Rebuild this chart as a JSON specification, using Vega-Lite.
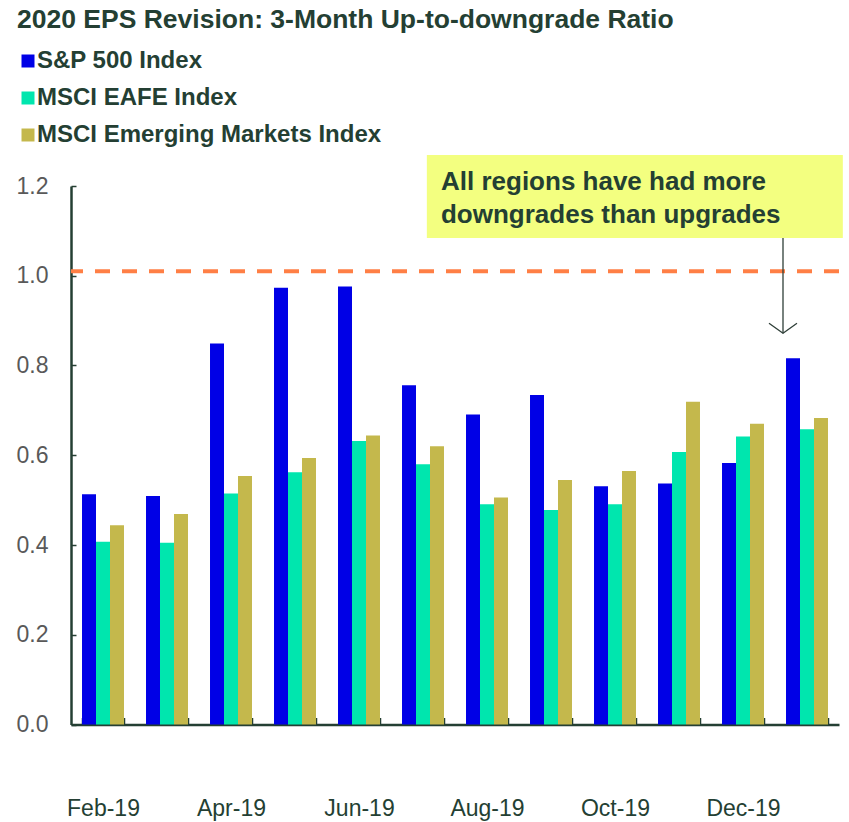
{
  "$schema": "https://vega.github.io/schema/vega-lite/v6.json",
  "width": 768,
  "height": 538.5,
  "autosize": {"type": "none"},
  "padding": {"left": 71, "top": 186, "right": 10, "bottom": 97},
  "background": "white",
  "config": {"view": {"stroke": null}, "font": "Liberation Sans"},
  "title": {
    "text": "2020 EPS Revision: 3-Month Up-to-downgrade Ratio",
    "anchor": "start",
    "frame": "group",
    "dx": -54,
    "offset": 16,
    "fontSize": 26.5,
    "fontWeight": "bold",
    "color": "#243f33",
    "font": "Liberation Sans"
  },
  "datasets": {
    "eps": [
      {"month": "Feb-19", "index": "S&P 500 Index", "ratio": 0.513},
      {"month": "Feb-19", "index": "MSCI EAFE Index", "ratio": 0.407},
      {"month": "Feb-19", "index": "MSCI Emerging Markets Index", "ratio": 0.444},
      {"month": "Mar-19", "index": "S&P 500 Index", "ratio": 0.509},
      {"month": "Mar-19", "index": "MSCI EAFE Index", "ratio": 0.405},
      {"month": "Mar-19", "index": "MSCI Emerging Markets Index", "ratio": 0.469},
      {"month": "Apr-19", "index": "S&P 500 Index", "ratio": 0.849},
      {"month": "Apr-19", "index": "MSCI EAFE Index", "ratio": 0.515},
      {"month": "Apr-19", "index": "MSCI Emerging Markets Index", "ratio": 0.554},
      {"month": "May-19", "index": "S&P 500 Index", "ratio": 0.973},
      {"month": "May-19", "index": "MSCI EAFE Index", "ratio": 0.562},
      {"month": "May-19", "index": "MSCI Emerging Markets Index", "ratio": 0.594},
      {"month": "Jun-19", "index": "S&P 500 Index", "ratio": 0.976},
      {"month": "Jun-19", "index": "MSCI EAFE Index", "ratio": 0.632},
      {"month": "Jun-19", "index": "MSCI Emerging Markets Index", "ratio": 0.644},
      {"month": "Jul-19", "index": "S&P 500 Index", "ratio": 0.756},
      {"month": "Jul-19", "index": "MSCI EAFE Index", "ratio": 0.58},
      {"month": "Jul-19", "index": "MSCI Emerging Markets Index", "ratio": 0.62},
      {"month": "Aug-19", "index": "S&P 500 Index", "ratio": 0.691},
      {"month": "Aug-19", "index": "MSCI EAFE Index", "ratio": 0.491},
      {"month": "Aug-19", "index": "MSCI Emerging Markets Index", "ratio": 0.506},
      {"month": "Sep-19", "index": "S&P 500 Index", "ratio": 0.734},
      {"month": "Sep-19", "index": "MSCI EAFE Index", "ratio": 0.478},
      {"month": "Sep-19", "index": "MSCI Emerging Markets Index", "ratio": 0.545},
      {"month": "Oct-19", "index": "S&P 500 Index", "ratio": 0.531},
      {"month": "Oct-19", "index": "MSCI EAFE Index", "ratio": 0.491},
      {"month": "Oct-19", "index": "MSCI Emerging Markets Index", "ratio": 0.565},
      {"month": "Nov-19", "index": "S&P 500 Index", "ratio": 0.537},
      {"month": "Nov-19", "index": "MSCI EAFE Index", "ratio": 0.607},
      {"month": "Nov-19", "index": "MSCI Emerging Markets Index", "ratio": 0.719},
      {"month": "Dec-19", "index": "S&P 500 Index", "ratio": 0.583},
      {"month": "Dec-19", "index": "MSCI EAFE Index", "ratio": 0.642},
      {"month": "Dec-19", "index": "MSCI Emerging Markets Index", "ratio": 0.67},
      {"month": "Jan-20", "index": "S&P 500 Index", "ratio": 0.816},
      {"month": "Jan-20", "index": "MSCI EAFE Index", "ratio": 0.658},
      {"month": "Jan-20", "index": "MSCI Emerging Markets Index", "ratio": 0.683}
    ]
  },
  "layer": [
    {
      "data": {"name": "eps"},
      "mark": {"type": "bar"},
      "encoding": {
        "x": {
          "field": "month",
          "type": "nominal",
          "sort": ["Feb-19","Mar-19","Apr-19","May-19","Jun-19","Jul-19","Aug-19","Sep-19","Oct-19","Nov-19","Dec-19","Jan-20"],
          "scale": {"paddingInner": 0.344, "paddingOuter": 0.172},
          "axis": {
            "title": null,
            "labelAngle": 0,
            "labelFontSize": 23,
            "labelColor": "#243f33",
            "labelPadding": 80,
            "tickSize": -7,
            "tickColor": "#243f33",
            "tickWidth": 1.5,
            "tickBand": "extent",
            "domainColor": "#243f33",
            "domainWidth": 2.5,
            "labelExpr": "indexof(['Feb-19','Apr-19','Jun-19','Aug-19','Oct-19','Dec-19'], datum.value) >= 0 ? datum.value : ''"
          }
        },
        "xOffset": {
          "field": "index",
          "type": "nominal",
          "sort": ["S&P 500 Index", "MSCI EAFE Index", "MSCI Emerging Markets Index"]
        },
        "y": {
          "field": "ratio",
          "type": "quantitative",
          "scale": {"domain": [0, 1.2], "nice": false},
          "axis": {
            "title": null,
            "values": [0, 0.2, 0.4, 0.6, 0.8, 1, 1.2],
            "format": ".1f",
            "labelFontSize": 23,
            "labelColor": "#595959",
            "labelPadding": 28,
            "tickSize": -5,
            "tickColor": "#243f33",
            "tickWidth": 1.5,
            "domainColor": "#243f33",
            "domainWidth": 2.5,
            "grid": false
          }
        },
        "color": {
          "field": "index",
          "type": "nominal",
          "sort": ["S&P 500 Index", "MSCI EAFE Index", "MSCI Emerging Markets Index"],
          "scale": {
            "domain": ["S&P 500 Index", "MSCI EAFE Index", "MSCI Emerging Markets Index"],
            "range": ["#0000E6", "#00E6AE", "#C4B84C"]
          },
          "legend": {
            "title": null,
            "orient": "none",
            "legendX": -55,
            "legendY": -137,
            "symbolType": "square",
            "symbolSize": 169,
            "symbolStrokeWidth": 0,
            "symbolOpacity": 1,
            "labelFontSize": 24,
            "labelFontWeight": "bold",
            "labelColor": "#243f33",
            "labelFont": "Liberation Sans",
            "labelOffset": -3,
            "labelLimit": 600,
            "rowPadding": 13
          }
        }
      }
    },
    {
      "data": {"values": [{}]},
      "mark": {"type": "rule", "color": "#FF7F45", "strokeWidth": 4, "strokeDash": [15, 12]},
      "encoding": {"y": {"datum": 1.01, "type": "quantitative"}}
    },
    {
      "data": {"values": [{}]},
      "mark": {"type": "rect", "color": "#F3FF80"},
      "encoding": {
        "x": {"datum": 5.56, "type": "quantitative", "scale": {"domain": [0, 12], "nice": false, "zero": false}, "axis": null},
        "x2": {"datum": 12.06},
        "y": {"datum": 1.084, "type": "quantitative"},
        "y2": {"datum": 1.269}
      }
    },
    {
      "data": {"values": [{}]},
      "mark": {"type": "rule", "color": "#2f3f38", "strokeWidth": 1.3},
      "encoding": {
        "x": {"datum": 11.125, "type": "quantitative", "scale": {"domain": [0, 12], "nice": false, "zero": false}, "axis": null},
        "y": {"datum": 1.084, "type": "quantitative"},
        "y2": {"datum": 0.872}
      }
    },
    {
      "data": {"values": [{}]},
      "mark": {"type": "point", "shape": "M-1,-0.714L0,0L1,-0.714", "size": 784, "filled": false, "stroke": "#2f3f38", "strokeWidth": 1.3, "opacity": 1},
      "encoding": {
        "x": {"datum": 11.125, "type": "quantitative", "scale": {"domain": [0, 12], "nice": false, "zero": false}, "axis": null},
        "y": {"datum": 0.872, "type": "quantitative"}
      }
    },
    {
      "data": {"values": [{}]},
      "mark": {
        "type": "text",
        "align": "left",
        "baseline": "alphabetic",
        "fontSize": 26,
        "fontWeight": "bold",
        "color": "#243f33",
        "font": "Liberation Sans",
        "lineHeight": 33,
        "text": ["All regions have had more", "downgrades than upgrades"]
      },
      "encoding": {
        "x": {"datum": 5.781, "type": "quantitative", "scale": {"domain": [0, 12], "nice": false, "zero": false}, "axis": null},
        "y": {"datum": 1.191, "type": "quantitative"}
      }
    }
  ],
  "resolve": {"scale": {"x": "independent"}}
}
